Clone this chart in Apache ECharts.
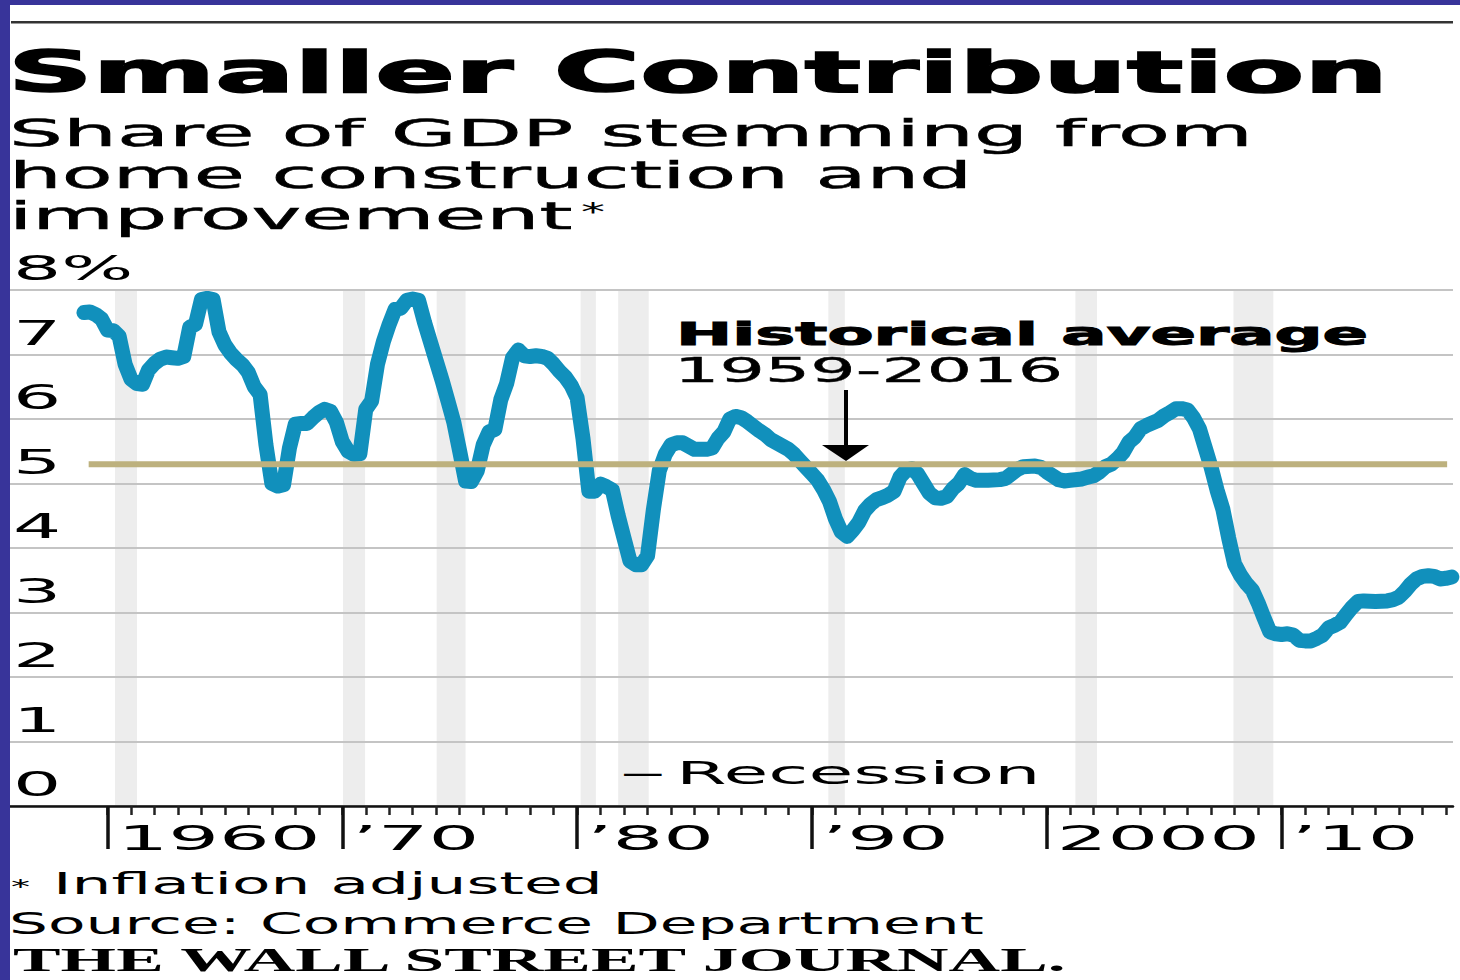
<!DOCTYPE html>
<html><head><meta charset="utf-8">
<script src="https://cdn.jsdelivr.net/npm/echarts@6/dist/echarts.min.js"></script>
<style>html,body{margin:0;padding:0;background:#fff}#c{width:1460px;height:980px}</style>
</head><body><div id="c"></div>
<script>
// ---- data ----
const years = [1959.0,1959.25,1959.5,1959.75,1960.0,1960.25,1960.5,1960.75,1961.0,1961.25,1961.5,1961.75,
1962.0,1962.25,1962.5,1962.75,1963.0,1963.25,1963.5,1963.75,1964.0,1964.25,1964.5,1964.75,
1965.0,1965.25,1965.5,1965.75,1966.0,1966.25,1966.5,1966.75,1967.0,1967.25,1967.5,1967.75,
1968.0,1968.25,1968.5,1968.75,1969.0,1969.25,1969.5,1969.75,1970.0,1970.25,1970.5,1970.75,
1971.0,1971.25,1971.5,1971.75,1972.0,1972.25,1972.5,1972.75,1973.0,1973.25,1973.5,1973.75,
1974.0,1974.25,1974.5,1974.75,1975.0,1975.25,1975.5,1975.75,1976.0,1976.25,1976.5,1976.75,
1977.0,1977.25,1977.5,1977.75,1978.0,1978.25,1978.5,1978.75,1979.0,1979.25,1979.5,1979.75,
1980.0,1980.25,1980.5,1980.75,1981.0,1981.25,1981.5,1981.75,1982.0,1982.25,1982.5,1982.75,
1983.0,1983.25,1983.5,1983.75,1984.0,1984.25,1984.5,1984.75,1985.0,1985.5,1985.75,
1986.0,1986.25,1986.5,1986.75,1987.0,1987.25,1987.5,1987.75,1988.0,1988.25,1988.5,1988.75,
1989.0,1989.25,1989.5,1989.75,1990.0,1990.25,1990.5,1990.75,1991.0,1991.25,1991.5,1991.75,
1992.0,1992.25,1992.5,1992.75,1993.0,1993.25,1993.5,1993.75,1994.0,1994.25,1994.5,1994.75,
1995.0,1995.25,1995.5,1995.75,1996.0,1996.25,1996.5,1996.75,1997.0,1997.5,1998.0,1998.25,1998.5,1998.75,
1999.0,1999.5,1999.75,2000.0,2000.25,2000.5,2000.75,2001.0,2001.5,2001.75,
2002.0,2002.25,2002.5,2002.75,2003.0,2003.25,2003.5,2003.75,2004.0,2004.25,2004.5,2004.75,
2005.0,2005.25,2005.5,2005.75,2006.0,2006.25,2006.5,2006.75,2007.0,2007.25,2007.5,2007.75,
2008.0,2008.25,2008.5,2008.75,2009.0,2009.25,2009.5,2009.75,2010.0,2010.25,2010.5,2010.75,
2011.0,2011.25,2011.5,2011.75,2012.0,2012.25,2012.5,2012.75,2013.0,2013.25,2013.5,2014.0,2014.5,2014.75,
2015.0,2015.25,2015.5,2015.75,2016.0,2016.25,2016.5,2016.75,2017.0,2017.25];
const shares = [7.65,7.66,7.62,7.55,7.38,7.37,7.28,6.85,6.62,6.55,6.54,6.76,
6.86,6.93,6.96,6.95,6.94,6.97,7.42,7.47,7.85,7.87,7.85,7.35,
7.15,7.02,6.92,6.84,6.72,6.50,6.38,5.60,5.00,4.96,4.98,5.55,
5.92,5.93,5.93,6.02,6.10,6.15,6.12,5.95,5.65,5.50,5.45,5.46,
6.15,6.28,6.85,7.20,7.47,7.70,7.72,7.84,7.86,7.84,7.50,7.20,
6.90,6.60,6.28,5.95,5.50,5.04,5.03,5.20,5.60,5.80,5.84,6.30,
6.55,6.95,7.07,6.98,6.97,6.98,6.97,6.94,6.85,6.74,6.65,6.52,
6.33,5.70,4.88,4.88,4.99,4.95,4.90,4.50,4.15,3.80,3.74,3.74,
3.88,4.60,5.20,5.45,5.60,5.63,5.63,5.58,5.53,5.53,5.55,
5.70,5.80,6.00,6.04,6.02,5.96,5.89,5.82,5.76,5.68,5.63,5.58,
5.53,5.45,5.35,5.25,5.15,5.05,4.90,4.72,4.45,4.25,4.18,4.28,
4.40,4.58,4.68,4.75,4.78,4.82,4.88,5.10,5.20,5.23,5.15,5.00,
4.85,4.78,4.77,4.80,4.92,5.00,5.14,5.08,5.05,5.05,5.06,5.08,5.15,5.22,
5.26,5.27,5.25,5.18,5.12,5.06,5.04,5.05,5.07,5.10,
5.12,5.18,5.26,5.30,5.38,5.48,5.64,5.72,5.85,5.90,5.94,5.98,
6.05,6.10,6.16,6.16,6.14,6.02,5.85,5.55,5.25,4.90,4.60,4.15,
3.75,3.58,3.45,3.35,3.15,2.92,2.70,2.67,2.66,2.67,2.65,2.57,
2.56,2.56,2.60,2.65,2.76,2.80,2.85,2.97,3.08,3.17,3.18,3.17,3.18,3.20,
3.24,3.33,3.44,3.52,3.56,3.57,3.56,3.52,3.53,3.55];
const recessionStart = [1960.32, 1970.03, 1974.02, 1980.15, 1981.75, 1990.70, 2001.22, 2007.95];
const recessionEnd   = [1961.26, 1970.97, 1975.25, 1980.80, 1983.05, 1991.40, 2002.14, 2009.65];
const averageValue = 5.3;
const averageFrom = 1959.2, averageTo = 2017.05;
const yTicks = [0, 1, 2, 3, 4, 5, 6, 7, 8];
const yTickLabels = ['0', '1', '2', '3', '4', '5', '6', '7', '8%'];
const xMajorTicks = [1960, 1970, 1980, 1990, 2000, 2010];
const xTickLabels = ['1960', '\u201970', '\u201980', '\u201990', '2000', '\u201910'];
const firstMinorTick = 1960, lastMinorTick = 2017;

// ---- layout ----
const XMIN = 1955.85, XMAX = 2017.30;
const minorTicks = [];
for (let t = firstMinorTick; t <= lastMinorTick; t++) minorTicks.push(t);
const FONT = 'DejaVu Sans';

const chart = echarts.init(document.getElementById('c'), null, {renderer: 'svg'});
const axisBase = {type: 'value', min: XMIN, max: XMAX, gridIndex: 0, position: 'bottom',
  splitLine: {show: false}, axisLabel: {show: false}};
chart.setOption({
  animation: false,
  backgroundColor: '#fff',
  grid: {left: 10, right: 7, top: 290, bottom: 174, containLabel: false},
  xAxis: [
    Object.assign({}, axisBase, {
      axisLine: {show: true, lineStyle: {color: '#111', width: 2.5}},
      axisTick: {show: true, customValues: minorTicks, length: 9, lineStyle: {color: '#222', width: 2.5}}
    }),
    Object.assign({}, axisBase, {
      axisLine: {show: false},
      axisTick: {show: true, customValues: xMajorTicks, length: 43, lineStyle: {color: '#111', width: 3.5}}
    })
  ],
  yAxis: {type: 'value', min: 0, max: 8, interval: 1,
    axisLine: {show: false}, axisTick: {show: false}, axisLabel: {show: false},
    splitLine: {show: true, lineStyle: {color: '#c4c4c4', width: 2}}},
  series: [
    {
      type: 'custom', z: -1, silent: true,
      data: recessionStart.map((s, i) => [s, recessionEnd[i]]),
      encode: {x: [0, 1]},
      renderItem: function (params, api) {
        const p0 = api.coord([api.value(0), 8]);
        const p1 = api.coord([api.value(1), 0]);
        return {type: 'rect', shape: {x: p0[0], y: p0[1], width: p1[0] - p0[0], height: p1[1] - p0[1]},
          style: {fill: '#ededed'}};
      }
    },
    {
      type: 'line', name: 'Share of GDP', z: 3, showSymbol: false, silent: true,
      data: years.map((y, i) => [y, shares[i]]),
      lineStyle: {color: '#1190bc', width: 15, cap: 'round', join: 'round'}
    },
    {
      type: 'line', name: 'Historical average', z: 4, showSymbol: false, silent: true,
      data: [[averageFrom, averageValue], [averageTo, averageValue]],
      lineStyle: {color: '#bdb17e', width: 6}
    }
  ]
});

function txt(text, x, y, size, sx, opts) {
  opts = opts || {};
  const style = {text: text, fill: opts.fill || '#000', fontSize: size, fontWeight: opts.weight || 'normal',
      fontFamily: opts.family || FONT, align: 'left', verticalAlign: 'middle',
      textAlign: 'left', textVerticalAlign: 'middle'};
  if (opts.stroke) { style.stroke = '#000'; style.lineWidth = opts.stroke; }
  return {type: 'text', x: x, y: y, scaleX: sx, scaleY: 1, silent: true, z: 10, style: style};
}
const px = (x, y) => chart.convertToPixel({seriesIndex: 1}, [x, y]);

const els = [];
// frame
els.push({type: 'rect', shape: {x: 0, y: 0, width: 1460, height: 5}, style: {fill: '#38349a'}, z: 20, silent: true});
els.push({type: 'rect', shape: {x: 0, y: 0, width: 10, height: 980}, style: {fill: '#38349a'}, z: 20, silent: true});
els.push({type: 'rect', shape: {x: 11, y: 21, width: 1442, height: 2.5}, style: {fill: '#333'}, z: 10, silent: true});
// titles
els.push(txt('Smaller Contribution', 8, 93 - 0.365 * 56, 56, 2.1, {weight: 'bold', stroke: 1.6}));
els.push(txt('Share of GDP stemming from', 9, 147 - 13.5, 37, 2.30, {stroke: 0.5}));
els.push(txt('home construction and', 9, 188.5 - 13.5, 37, 2.25, {stroke: 0.5}));
els.push(txt('improvement', 9, 230 - 13.5, 37, 2.27, {stroke: 0.5}));
els.push(txt('*', 581, 212, 24, 2.0));
// y tick labels
yTicks.forEach((v, i) => {
  const p = px(XMIN, v);
  els.push(txt(yTickLabels[i], 13, p[1] - 21, 33, 2.3));
});
// x tick labels
xMajorTicks.forEach((t, i) => {
  const p = px(t, 0);
  els.push(txt(xTickLabels[i], p[0] + 10, p[1] + 32, 33, 2.42));
});
// annotation
els.push(txt('Historical average', 676, 345 - 0.365 * 32, 32, 2.1, {weight: 'bold', stroke: 1}));
els.push(txt('1959-2016', 674, 383 - 0.365 * 34, 34, 2.1, {stroke: 0.4}));
els.push({type: 'line', shape: {x1: 846, y1: 390, x2: 846, y2: 448}, style: {stroke: '#000', lineWidth: 4}, z: 10, silent: true});
els.push({type: 'polygon', shape: {points: [[822, 445], [869, 445], [846, 461]]}, style: {fill: '#000'}, z: 10, silent: true});
// recession legend
els.push(txt('\u2014', 622, 773, 32, 1.3));
els.push(txt('Recession', 676, 785 - 0.365 * 32, 32, 2.28));
// footer
els.push(txt('*', 11, 886, 20, 1.9));
els.push(txt('Inflation adjusted', 53, 895 - 0.365 * 30, 30, 2.1));
els.push(txt('Source: Commerce Department', 9, 934 - 0.365 * 31, 31, 1.98));
els.push(txt('THE WALL STREET JOURNAL.', 13, 971 - 0.3375 * 34, 34, 2.1, {weight: 'bold', family: 'Liberation Serif'}));

chart.setOption({graphic: {elements: els}});
</script>
</body></html>
